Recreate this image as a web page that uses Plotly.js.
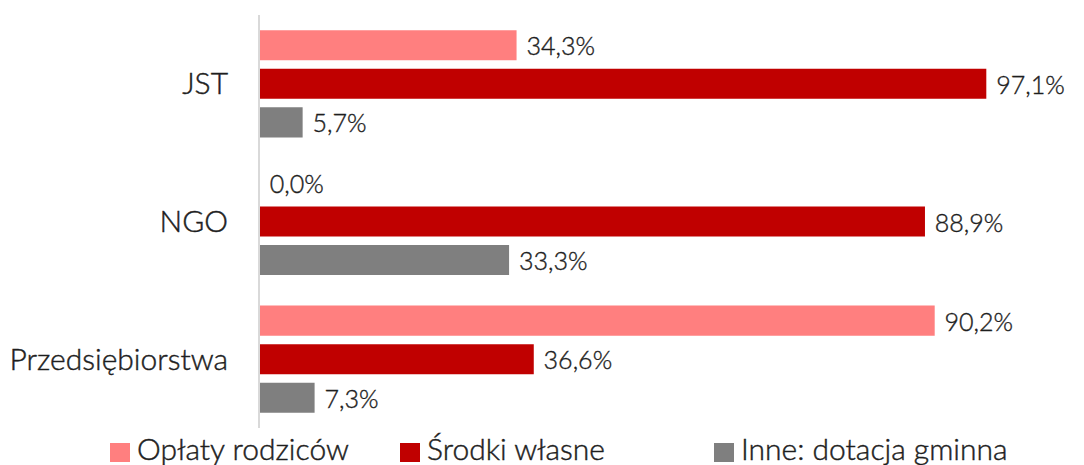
<!DOCTYPE html>
<html><head><meta charset="utf-8">
<script src="https://cdn.plot.ly/plotly-3.0.1.min.js"></script>
<style>
html,body{margin:0;padding:0;background:#fff}
#chart text{stroke:#1e1e1e;stroke-width:0.45px;}
</style>
</head><body><div id="chart" style="width:1084px;height:465px"></div>
<script>
const categories = ["JST", "NGO", "Przedsiębiorstwa"];
const seriesNames = ["Opłaty rodziców", "Środki własne", "Inne: dotacja gminna"];
const oplaty = [34.3, 0.0, 90.2];
const srodki = [97.1, 88.9, 36.6];
const inne = [5.7, 33.3, 7.3];
const colors = ["#FF7F7F", "#C00000", "#7F7F7F"];
const FONT = "Lato, 'Open Sans', sans-serif";
const FS = 30;
const TXT = "#1e1e1e";
const WT = 300;
const vals = [oplaty, srodki, inne];
const traces = vals.map((v, i) => ({
  type: "bar", orientation: "h", name: seriesNames[i],
  y: categories, x: v,
  marker: {color: colors[i]},
  texttemplate: "\u00a0%{x:.1f}%", textposition: "outside", cliponaxis: false,
  textfont: {family: FONT, size: FS, color: TXT, weight: WT},
  hoverinfo: "none", showlegend: false
}));

// plot area geometry (pixels) used to place the legend in paper coordinates
const W = 1084, H = 465, L = 260, R = 76, T = 15, B = 37;
const pw = W - L - R, ph = H - T - B;
const px = x => (x - L) / pw;
const py = y => (H - B - y) / ph;
const legendX = [110, 400, 714];
const shapes = [], annotations = [];
seriesNames.forEach((n, i) => {
  shapes.push({type: "rect", xref: "paper", yref: "paper",
    x0: px(legendX[i]), x1: px(legendX[i] + 20), y0: py(462), y1: py(443),
    fillcolor: colors[i], line: {width: 0}});
  annotations.push({xref: "paper", yref: "paper", x: px(legendX[i] + 25), y: py(448),
    xanchor: "left", yanchor: "middle", text: n, showarrow: false,
    font: {family: FONT, size: FS, color: TXT, weight: WT}});
});

const layout = {
  width: W, height: H,
  margin: {l: L, r: R, t: T, b: B},
  separators: ", ",
  barmode: "group", bargap: 0.16, bargroupgap: 0.22,
  font: {family: FONT, size: FS, color: TXT, weight: WT},
  paper_bgcolor: "#fff", plot_bgcolor: "#fff",
  xaxis: {range: [0, 100], visible: false, showgrid: false, zeroline: false},
  yaxis: {autorange: "reversed", showline: true, linecolor: "#d9d9d9", linewidth: 2,
          ticks: "", ticklabelstandoff: 24, showgrid: false, zeroline: false,
          tickfont: {family: FONT, size: FS, color: TXT, weight: WT}},
  showlegend: false,
  shapes: shapes, annotations: annotations
};
Plotly.newPlot("chart", traces, layout, {staticPlot: true});
</script></body></html>
